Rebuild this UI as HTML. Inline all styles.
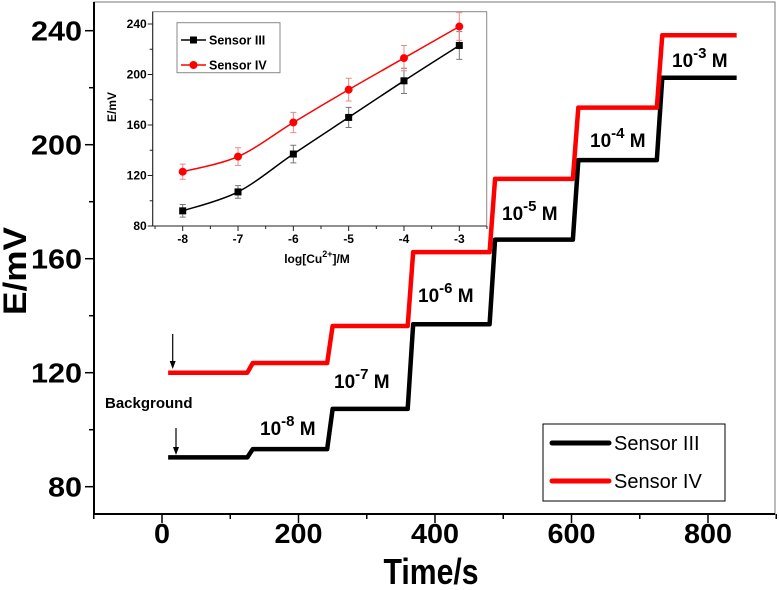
<!DOCTYPE html>
<html><head><meta charset="utf-8"><style>
html,body{margin:0;padding:0;background:#fff}
svg{display:block;font-family:"Liberation Sans",Arial,sans-serif}
</style></head><body>
<svg id="chart" width="779" height="590" viewBox="0 0 779 590">
<g id="main"></g>
<g id="inset"></g>
</svg>
<script>
// main chart data
const stepTimes = [125, 242, 360, 480, 602, 725];
const sensor3Levels = [90.3, 93.2, 107.3, 137, 166.7, 194.6, 223.5];
const sensor4Levels = [120, 123.4, 136.4, 162.3, 188, 213, 238.4];
const timeStart = 9, timeEnd = 842;
const xTicks = [0, 200, 400, 600, 800];
const yTicks = [80, 120, 160, 200, 240];
const concLabels = ["-8", "-7", "-6", "-5", "-4", "-3"];
// inset data
const logConc = [-8, -7, -6, -5, -4, -3];
const inset3 = [92, 107, 137, 166, 195, 223];
const inset4 = [123, 135, 162, 188, 213, 238];
const err3 = [5, 5, 7, 8, 10, 11];
const err4 = [6, 7, 8, 9, 10, 11];
const insetYTicks = [80, 120, 160, 200, 240];

const NS = "http://www.w3.org/2000/svg";
function mk(parent, tag, attrs, text) {
  const e = document.createElementNS(NS, tag);
  for (const k in attrs) e.setAttribute(k, attrs[k]);
  if (text !== undefined) e.textContent = text;
  parent.appendChild(e);
  return e;
}
const X = t => 162 + (t - 0) * 0.6825;
const Y = v => 486.7 - (v - 80) * 2.85;
const L = 94, R = 775, T = 2, B = 514;
const main = document.getElementById('main');

let fr = mk(main, 'rect', {x: L, y: T, width: R - L, height: B - T, fill: 'none', stroke: '#777', 'stroke-width': 1});


let ax = mk(main, 'path', {d: `M${L},${T}V${B}H${R}`, fill: 'none', stroke: '#000', 'stroke-width': 2});



for (let t = -100; t <= 900; t += 100) {
  const major = t % 200 === 0;
  let tk = mk(main, 'line', {x1: X(t), x2: X(t), y1: B, y2: B + (major ? 9 : 5), stroke: '#000', 'stroke-width': 1.5});
  
  
}
xTicks.forEach(t => {
  const s = String(t);
  let lb = mk(main, 'text', {x: X(t), y: 543, 'text-anchor': 'middle', 'font-size': 28, 'font-weight': 'bold', textLength: 16 * s.length, lengthAdjust: 'spacingAndGlyphs'}, s);
  
  
});
for (let v = 80; v <= 240; v += 20) {
  const major = v % 40 === 0;
  let tk = mk(main, 'line', {x1: L - (major ? 9 : 5), x2: L, y1: Y(v), y2: Y(v), stroke: '#000', 'stroke-width': 1.5});
  
  
}
yTicks.forEach(v => {
  const s = String(v);
  let lb = mk(main, 'text', {x: 82, y: Y(v) + 10, 'text-anchor': 'end', 'font-size': 28, 'font-weight': 'bold', textLength: 17 * s.length, lengthAdjust: 'spacingAndGlyphs'}, s);
  
  
});
let xt = mk(main, 'text', {x: 431, y: 584, 'text-anchor': 'middle', 'font-size': 36, 'font-weight': 'bold', textLength: 95, lengthAdjust: 'spacingAndGlyphs'}, 'Time/s');


let yt = mk(main, 'text', {x: 0, y: 0, transform: 'translate(26,271) rotate(-90)', 'text-anchor': 'middle', 'font-size': 32, 'font-weight': 'bold', textLength: 88, lengthAdjust: 'spacingAndGlyphs'}, 'E/mV');



function stepPath(levels) {
  let d = `M${X(timeStart)},${Y(levels[0])}`;
  stepTimes.forEach((t, i) => {
    d += `L${X(t)},${Y(levels[i])}L${X(t + 8)},${Y(levels[i + 1])}`;
  });
  d += `L${X(timeEnd)},${Y(levels[levels.length - 1])}`;
  return d;
}
let s3 = mk(main, 'path', {d: stepPath(sensor3Levels), fill: 'none', stroke: '#000', 'stroke-width': 4.5, 'stroke-linejoin': 'round'});


let s4 = mk(main, 'path', {d: stepPath(sensor4Levels), fill: 'none', stroke: '#f00', 'stroke-width': 4.5, 'stroke-linejoin': 'round'});



[[172.7, 334, 369], [176, 428, 455]].forEach(a => {
  let g = mk(main, 'g', {});
  
  
  mk(g, 'line', {x1: a[0], x2: a[0], y1: a[1], y2: a[2] - 5, stroke: '#000', 'stroke-width': 1.2});
  mk(g, 'path', {d: `M${a[0] - 3},${a[2] - 8}L${a[0] + 3},${a[2] - 8}L${a[0]},${a[2]}Z`, fill: '#000'});
});
let bg = mk(main, 'text', {x: 105, y: 408, 'font-size': 15, 'font-weight': 'bold'}, 'Background');



const concPos = [[260, 435], [334, 388], [418, 302], [502, 220], [590, 147], [672, 67]];
concLabels.forEach((c, i) => {
  let t = mk(main, 'text', {x: concPos[i][0], y: concPos[i][1], 'font-size': 19, 'font-weight': 'bold'});
  
  
  mk(t, 'tspan', {}, '10');
  mk(t, 'tspan', {dy: -9, 'font-size': 15}, c);
  mk(t, 'tspan', {dy: 9}, ' M');
});

let lg = mk(main, 'g', {});


mk(lg, 'rect', {x: 543, y: 424, width: 182, height: 77, fill: '#fff', stroke: '#000', 'stroke-width': 1});
[['Sensor III', '#000', 443], ['Sensor IV', '#f00', 481]].forEach(e => {
  let g = mk(lg, 'g', {});
  
  
  mk(g, 'line', {x1: 552, x2: 609, y1: e[2], y2: e[2], stroke: e[1], 'stroke-width': 5, 'stroke-linecap': 'round'});
  mk(g, 'text', {x: 614, y: e[2] + 7, 'font-size': 20}, e[0]);
});

// ===== inset =====
const ins = document.getElementById('inset');
const IL = 152.7, IR = 486.7, IT = 11.7, IB = 226;
const IX = v => 182.7 + (v + 8) * 55.32;
const IY = v => 226 - (v - 80) * 1.2625;
let ifr = mk(ins, 'rect', {x: IL, y: IT, width: IR - IL, height: IB - IT, fill: '#fff', stroke: '#888', 'stroke-width': 1});


mk(ins, 'path', {d: `M${IL},${IT}V${IB}H${IR}`, fill: 'none', stroke: '#222', 'stroke-width': 1});
for (let v = -8.5; v <= -2.5; v += 0.5) {
  const major = Number.isInteger(v);
  let tk = mk(ins, 'line', {x1: IX(v), x2: IX(v), y1: IB, y2: IB + (major ? 5 : 3), stroke: '#222'});
  
  
}
logConc.forEach(v => {
  let lb = mk(ins, 'text', {x: IX(v), y: 243, 'text-anchor': 'middle', 'font-size': 12, 'font-weight': 'bold'}, String(v));
  
  
});
for (let v = 80; v <= 240; v += 20) {
  const major = v % 40 === 0;
  let tk = mk(ins, 'line', {x1: IL - (major ? 5 : 3), x2: IL, y1: IY(v), y2: IY(v), stroke: '#222'});
  
  
}
insetYTicks.forEach(v => {
  let lb = mk(ins, 'text', {x: IL - 6, y: IY(v) + 4, 'text-anchor': 'end', 'font-size': 12, 'font-weight': 'bold'}, String(v));
  
  
});
let ixt = mk(ins, 'text', {x: 317, y: 263, 'text-anchor': 'middle', 'font-size': 12, 'font-weight': 'bold'});


mk(ixt, 'tspan', {}, 'log[Cu');
mk(ixt, 'tspan', {dy: -6, 'font-size': 9}, '2+');
mk(ixt, 'tspan', {dy: 6}, ']/M');
let iyt = mk(ins, 'text', {x: 0, y: 0, transform: 'translate(116,107) rotate(-90)', 'text-anchor': 'middle', 'font-size': 12, 'font-weight': 'bold'}, 'E/mV');



function smooth(vals) {
  const p = vals.map((v, i) => [IX(logConc[i]), IY(v)]);
  let d = `M${p[0][0]},${p[0][1]}`;
  for (let i = 0; i < p.length - 1; i++) {
    const p0 = p[Math.max(0, i - 1)], p1 = p[i], p2 = p[i + 1], p3 = p[Math.min(p.length - 1, i + 2)];
    const c1 = [p1[0] + (p2[0] - p0[0]) / 6, p1[1] + (p2[1] - p0[1]) / 6];
    const c2 = [p2[0] - (p3[0] - p1[0]) / 6, p2[1] - (p3[1] - p1[1]) / 6];
    d += `C${c1[0]},${c1[1]} ${c2[0]},${c2[1]} ${p2[0]},${p2[1]}`;
  }
  return d;
}
function series(vals, errs, color, errColor, square, name) {
  let g = mk(ins, 'g', {});
  
  
  vals.forEach((v, i) => {
    const x = IX(logConc[i]);
    mk(g, 'path', {d: `M${x},${IY(v - errs[i])}V${IY(v + errs[i])}M${x - 3},${IY(v - errs[i])}h6M${x - 3},${IY(v + errs[i])}h6`, stroke: errColor, fill: 'none', 'stroke-width': 1});
  });
  mk(g, 'path', {d: smooth(vals), fill: 'none', stroke: color, 'stroke-width': 1.5});
  vals.forEach((v, i) => {
    const x = IX(logConc[i]), y = IY(v);
    let m = square ? mk(g, 'rect', {x: x - 3.5, y: y - 3.5, width: 7, height: 7, fill: color})
                   : mk(g, 'circle', {cx: x, cy: y, r: 4, fill: color});
    
    
  });
}
series(inset3, err3, '#000', '#777', true, 'inset-sensor-iii-series');
series(inset4, err4, '#f00', '#e88', false, 'inset-sensor-iv-series');

let ilg = mk(ins, 'g', {});


mk(ilg, 'rect', {x: 177, y: 22.7, width: 103, height: 50, fill: '#fff', stroke: '#888'});
[['Sensor III', '#000', 40, true], ['Sensor IV', '#f00', 65, false]].forEach(e => {
  let g = mk(ilg, 'g', {});
  
  
  mk(g, 'line', {x1: 181, x2: 206, y1: e[2], y2: e[2], stroke: e[1], 'stroke-width': 1.5});
  if (e[3]) mk(g, 'rect', {x: 190, y: e[2] - 3.5, width: 7, height: 7, fill: e[1]});
  else mk(g, 'circle', {cx: 193.5, cy: e[2], r: 4, fill: e[1]});
  mk(g, 'text', {x: 209, y: e[2] + 4.5, 'font-size': 12.5, 'font-weight': 'bold'}, e[0]);
});
</script>
</body></html>
